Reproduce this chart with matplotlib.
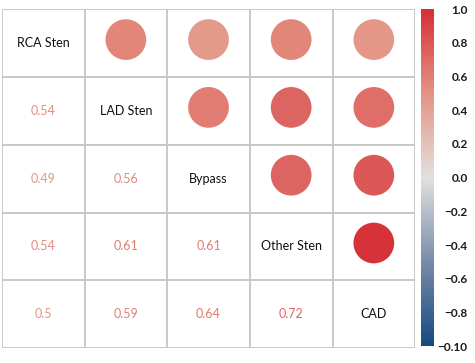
import numpy as np
import matplotlib.pyplot as plt
from matplotlib.colors import LinearSegmentedColormap, Normalize
from matplotlib.cm import ScalarMappable

plt.rcParams['font.family'] = ['Lato', 'DejaVu Sans']

labels = ["RCA Sten", "LAD Sten", "Bypass", "Other Sten", "CAD"]
corr = np.array([
    [1.00, 0.54, 0.49, 0.54, 0.50],
    [0.54, 1.00, 0.56, 0.61, 0.59],
    [0.49, 0.56, 1.00, 0.61, 0.64],
    [0.54, 0.61, 0.61, 1.00, 0.72],
    [0.50, 0.59, 0.64, 0.72, 1.00],
])
cbar_ticks = [1.0, 0.8, 0.6, 0.4, 0.2, 0.0, -0.2, -0.4, -0.6, -0.8, -1.0]
cbar_labels = ["1.0", "0.8", "0.6", "0.4", "0.2", "0.0", "\u22120.2", "\u22120.4",
               "\u22120.6", "\u22120.8", "\u22120.10"]

cmap = LinearSegmentedColormap.from_list("corr", [
    (0.00, (22/255, 73/255, 127/255)),
    (0.25, (120/255, 140/255, 170/255)),
    (0.50, (226/255, 224/255, 222/255)),
    (0.75, (228/255, 148/255, 132/255)),
    (1.00, (214/255, 47/255, 56/255)),
])
circle_norm = Normalize(-0.15, 0.73)
text_norm = Normalize(-1, 1)

fig = plt.figure(figsize=(4.75, 3.63), dpi=100)
ax = fig.add_axes([0.004, 0.041, 0.870, 0.934])
n = len(labels)
ax.set_xlim(0, n)
ax.set_ylim(n, 0)

for k in range(n + 1):
    ax.axhline(k, color="#c8c8c8", lw=1.4, zorder=1)
    ax.axvline(k, color="#c8c8c8", lw=1.4, zorder=1)

for i in range(n):
    for j in range(n):
        v = corr[i, j]
        if i == j:
            ax.text(j + 0.5, i + 0.5, labels[i], ha="center", va="center",
                    fontsize=9, color="#111111")
        elif j > i:
            ax.scatter(j + 0.5, i + 0.45, s=860, color=cmap(circle_norm(v)),
                       edgecolors="none", zorder=2)
        else:
            ax.text(j + 0.5, i + 0.5, f"{v:g}", ha="center", va="center",
                    fontsize=9, color=cmap(text_norm(v)))

ax.set_xticks([])
ax.set_yticks([])
for sp in ax.spines.values():
    sp.set_visible(False)

cax = fig.add_axes([0.886, 0.046, 0.027, 0.929])
sm = ScalarMappable(norm=text_norm, cmap=cmap)
cb = fig.colorbar(sm, cax=cax)
cb.outline.set_visible(False)
cb.set_ticks(cbar_ticks, labels=cbar_labels, fontweight="bold",
             color="#1a1a1a", ha="right", fontsize=8.5)
cax.tick_params(length=0, pad=24.5)

fig.savefig("out.png", dpi=100)
